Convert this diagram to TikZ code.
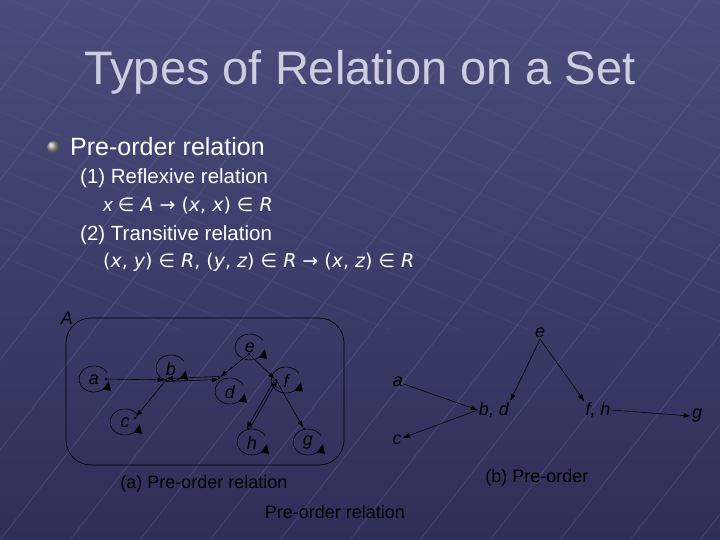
\documentclass[tikz,border=0pt]{standalone}
\usepackage{fontspec}
\setmainfont{Liberation Sans}
\newfontfamily\dvs{DejaVu Sans}
\usetikzlibrary{arrows.meta,calc}
\definecolor{bgtop}{HTML}{4C4C7C}
\definecolor{bgbot}{HTML}{2E2E58}
\definecolor{gridc}{HTML}{6A6A98}
\definecolor{titlec}{HTML}{CDCDE0}
\tikzset{
  vtx/.style={font=\itshape\fontsize{18}{18}\selectfont, text=black, inner sep=1pt},
  dot/.style={circle, fill=black, inner sep=0pt, minimum size=2.5pt},
  edge/.style={draw=black, line width=0.6pt, -{Latex[length=7pt,width=5pt]}},
  loopa/.style={draw=black, line width=0.6pt, -{Triangle[length=9pt,width=8pt]}},
  txt/.style={text=white, anchor=west, inner sep=0pt},
  captxt/.style={text=black, font=\fontsize{18}{18}\selectfont, inner sep=0pt}
}
\begin{document}
\begin{tikzpicture}[x=1pt,y=-1pt]
\useasboundingbox (0,0) rectangle (720,540);
\shade[top color=bgtop, bottom color=bgbot] (0,0) rectangle (720,540);
% faint grid
\foreach \i in {-6,...,14}{
  \draw[gridc, opacity=0.35, line width=1pt] (\i*70,540) -- (\i*70+420,0);
  \draw[gridc, opacity=0.2, line width=0.8pt] (\i*70-200,0) -- (\i*70+600,330);
}
% title
\node[text=titlec, font=\fontsize{47}{47}\selectfont] (title) at (360,72) {Types of Relation on a Set};
% bullet
\shade[ball color=gray!70] (53,147) circle (6);
\node[txt, font=\fontsize{25}{25}\selectfont] (t1) at (70,147) {Pre-order relation};
\node[txt, font=\fontsize{20.5}{20}\selectfont] (t2) at (80,178) {(1) Reflexive relation};
\node[txt, font=\fontsize{19}{19}\selectfont] (t3) at (103,206) {\itshape x \dvs\upshape∈ \itshape A \dvs\upshape→ (\itshape x\upshape, \itshape x\upshape) ∈ \itshape R};
\node[txt, font=\fontsize{20.5}{20}\selectfont] (t4) at (80,235) {(2) Transitive relation};
\node[txt, font=\fontsize{19}{19}\selectfont] (t5) at (103,262) {\dvs(\itshape x\upshape, \itshape y\upshape) ∈ \itshape R\upshape, (\itshape y\upshape, \itshape z\upshape) ∈ \itshape R \upshape→ (\itshape x\upshape, \itshape z\upshape) ∈ \itshape R};
% graph (a)
\draw[black, line width=0.7pt, rounded corners=25] (66,318) rectangle (344,465);
\node[vtx] (A) at (67,318) {A};
\node[vtx] (a) at (94,380) {a};
\node[vtx] (b) at (171,369) {b};
\node[vtx] (c) at (125,423) {c};
\node[vtx] (d) at (230,392) {d};
\node[vtx] (e) at (250,348) {e};
\node[vtx] (f) at (286,381) {f};
\node[vtx] (h) at (252,443) {h};
\node[vtx] (g) at (308,443) {g};
\node[dot] (da) at (106,379) {};
\node[dot] (db) at (166,380) {};
\node[dot] (dc) at (135,418) {};
\node[dot] (dd) at (219,378) {};
\node[dot] (de) at (249,354) {};
\node[dot] (df) at (276,380) {};
\node[dot] (dh) at (248,429) {};
\node[dot] (dg) at (304,429) {};
\foreach \n in {a,b,c,d,e,f,h,g}{
  \draw[loopa] ($(\n)+(330:15)$) arc (330:10:15 and 13);
}
\draw[edge] (da) -- (db);
\draw[edge] ([yshift=-1.5]db.center) -- ([yshift=-1.5]dd.center);
\draw[edge] ([yshift=1.5]dd.center) -- ([yshift=1.5]db.center);
\draw[edge] (db) -- (dc);
\draw[edge] (de) -- (dd);
\draw[edge] (de) -- (df);
\draw[edge] ([xshift=-1.5]df.center) -- ([xshift=-1.5]dh.center);
\draw[edge] ([xshift=1.5]dh.center) -- ([xshift=1.5]df.center);
\draw[edge] (df) -- (dg);
% graph (b)
\node[vtx] (be) at (540,333) {e};
\node[vtx] (ba) at (398,382) {a};
\node[vtx] (bbd) at (494,410) {b, d};
\node[vtx] (bfh) at (598,410) {f, h};
\node[vtx] (bg) at (697,416) {g};
\node[vtx] (bc) at (397,440) {c};
\draw[edge] (ba) -- (bbd.west);
\draw[edge] (bbd.west) -- (bc);
\draw[edge] (be.south) -- (bbd.north east);
\draw[edge] (be.south) -- (bfh.north west);
\draw[edge] (bfh.east) -- (bg.west);
% captions
\node[captxt] (ca) at (204,484) {(a) Pre-order relation};
\node[captxt] (cb) at (537,478) {(b) Pre-order};
\node[captxt] (cc) at (335,512) {Pre-order relation};
\end{tikzpicture}
\end{document}
